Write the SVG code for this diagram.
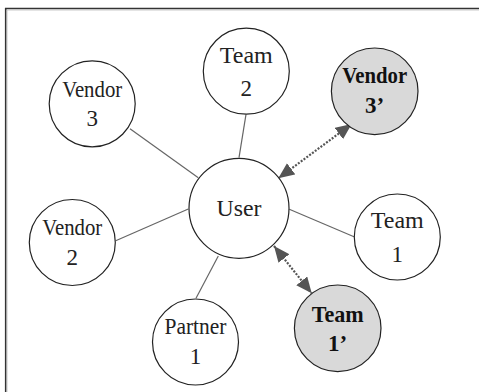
<svg xmlns="http://www.w3.org/2000/svg" width="479" height="392" viewBox="0 0 479 392">
<defs>
<style>
.n{fill:#fff;stroke:#222;stroke-width:1.2}
.g{fill:#d9d9d9;stroke:#222;stroke-width:1.2}
text{font-size:23px;fill:#222;text-anchor:middle}
.b{font-weight:bold;fill:#111}
.e{stroke:#666;stroke-width:1.2;fill:none}
.d{stroke:#555;stroke-width:2.2;stroke-dasharray:2 1.5;fill:none}
</style>
<marker id="ah" markerUnits="userSpaceOnUse" markerWidth="18" markerHeight="16" refX="16" refY="7" orient="auto-start-reverse">
<path d="M0,0 L16,7 L0,14 z" fill="#555"/>
</marker>
</defs>
<rect width="479" height="392" fill="#fff"/>
<path d="M5.7,392 V8.5 H479" fill="none" stroke="#333" stroke-width="1.6"/>
<path d="M7,392 V10 H479" fill="none" stroke="#bbb" stroke-width="0.8"/>
<g id="connectors">
<line class="e" x1="130" y1="128.7" x2="198.3" y2="177.7"/>
<line class="e" x1="246" y1="114.3" x2="239" y2="157.7"/>
<line class="e" x1="115.7" y1="240.7" x2="188.3" y2="209"/>
<line class="e" x1="354" y1="236.7" x2="289.3" y2="209.3"/>
<line class="e" x1="196" y1="298.3" x2="218.3" y2="256"/>
<line class="d" x1="278.3" y1="178.3" x2="351.7" y2="124" marker-start="url(#ah)" marker-end="url(#ah)"/>
<line class="d" x1="274" y1="246" x2="311.7" y2="293.3" marker-start="url(#ah)" marker-end="url(#ah)"/>
</g>
<g font-family="'Liberation Serif', 'DejaVu Serif', serif" lengthAdjust="spacingAndGlyphs">
<g id="user"><circle class="n" cx="239" cy="208.3" r="50"/><text x="239" y="216" textLength="45" lengthAdjust="spacingAndGlyphs">User</text></g>
<g id="team2"><circle class="n" cx="246.3" cy="71.2" r="43"/><text x="246.3" y="63" textLength="53" lengthAdjust="spacingAndGlyphs">Team</text><text x="246.3" y="96">2</text></g>
<g id="vendor3p"><circle class="g" cx="374.7" cy="91.3" r="43.3"/><text class="b" x="374.7" y="83.3" textLength="65" lengthAdjust="spacingAndGlyphs">Vendor</text><text class="b" x="374.7" y="112.7">3’</text></g>
<g id="vendor3"><circle class="n" cx="92.2" cy="103.8" r="43"/><text x="92.2" y="96.7" textLength="60" lengthAdjust="spacingAndGlyphs">Vendor</text><text x="92.2" y="125.7">3</text></g>
<g id="vendor2"><circle class="n" cx="72.3" cy="242.5" r="43"/><text x="72.3" y="235" textLength="60" lengthAdjust="spacingAndGlyphs">Vendor</text><text x="72.3" y="265">2</text></g>
<g id="team1"><circle class="n" cx="397.3" cy="237" r="43"/><text x="397.3" y="228.3" textLength="53" lengthAdjust="spacingAndGlyphs">Team</text><text x="397.3" y="261.7">1</text></g>
<g id="partner1"><circle class="n" cx="195.5" cy="342" r="43"/><text x="195.5" y="334.3" textLength="62" lengthAdjust="spacingAndGlyphs">Partner</text><text x="195.5" y="364">1</text></g>
<g id="team1p"><circle class="g" cx="337.7" cy="328.3" r="43.3"/><text class="b" x="337.7" y="321.7" textLength="52" lengthAdjust="spacingAndGlyphs">Team</text><text class="b" x="337.7" y="350.7">1’</text></g>
</g>
</svg>
